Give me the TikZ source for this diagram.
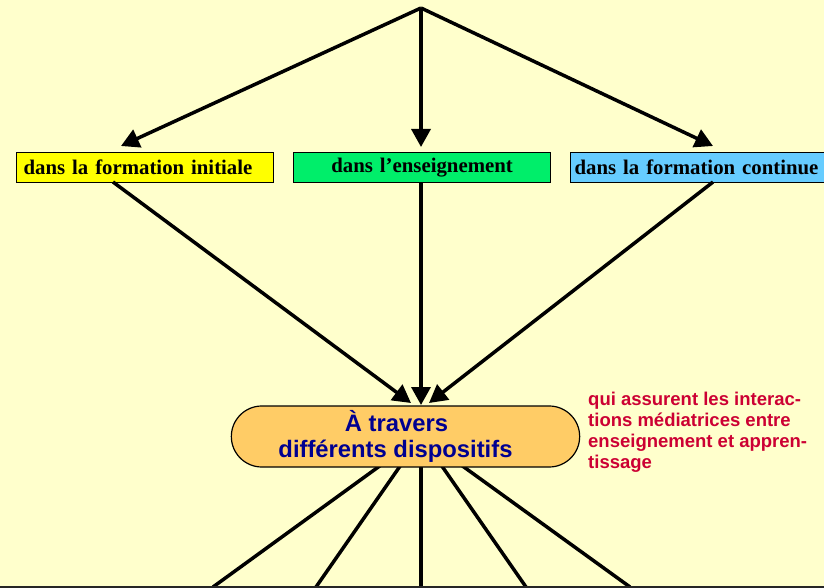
\documentclass[tikz,border=0pt]{standalone}
\usepackage{fontspec}
\setmainfont{Liberation Serif}
\newfontfamily\arialf{Liberation Sans}
\usetikzlibrary{arrows.meta,shapes.misc}
\definecolor{bgc}{HTML}{FFFFCC}
\definecolor{yelc}{HTML}{FFFF00}
\definecolor{grnc}{HTML}{00EE6A}
\definecolor{bluc}{HTML}{66CCFF}
\definecolor{pillc}{HTML}{FFCC66}
\definecolor{navyc}{HTML}{000090}
\definecolor{redc}{HTML}{CC0033}
\tikzset{
  conn/.style={line width=3.5pt, black},
  arr/.style={conn, -{Triangle[length=18pt,width=19pt]}},
  boxs/.style={draw=black, line width=1.2pt, minimum height=30pt, inner ysep=0pt,
    font=\fontsize{20.8}{23}\selectfont\bfseries, anchor=north west},
}
\begin{document}
\begin{tikzpicture}[x=1pt,y=-1pt]
\fill[bgc] (0,0) rectangle (824,588);
\useasboundingbox (0,0) rectangle (824,588);
% boxes
\node[boxs, fill=yelc, minimum width=257pt, text width=243pt, inner xsep=7pt, align=left] (b1) at (16,152) {\raisebox{1.5pt}{dans la formation initiale}};
\node[boxs, fill=grnc, minimum width=257pt, text width=247pt, inner xsep=5pt, align=center] (b2) at (293,152) {dans l’enseignement};
\node[boxs, fill=bluc, minimum width=262pt, text width=254pt, inner xsep=4pt, align=left] (b3) at (570,152) {dans la formation continue};
% coordinates
\coordinate (apex) at (421,8);
\coordinate (t1) at (121,146);
\coordinate (t2) at (421,147);
\coordinate (t3) at (713,146);
\coordinate (s1) at (113,182);
\coordinate (s2) at (421,182);
\coordinate (s3) at (713,182);
\coordinate (p1) at (411,403);
\coordinate (p2) at (421,405);
\coordinate (p3) at (429,403);
\coordinate (hub) at (421,436);
\coordinate (e1) at (213,587);
\coordinate (e2) at (316,587);
\coordinate (e3) at (421,587);
\coordinate (e4) at (526,587);
\coordinate (e5) at (630,587);
\coordinate (bl) at (0,587);
\coordinate (br) at (824,587);
% top arrows
\draw[arr] (apex) -- (t1);
\draw[arr] (apex) -- (t2);
\draw[arr] (apex) -- (t3);
% arrows to pill
\draw[arr] (s1) -- (p1);
\draw[arr] (s2) -- (p2);
\draw[arr] (s3) -- (p3);
% lines below pill
\foreach \e in {e1,e2,e3,e4,e5} \draw[conn] (hub) -- (\e);
\draw[line width=2pt, black!85] (bl) -- (br);
% pill
\node[rounded rectangle, draw=black, line width=1.2pt, fill=pillc, minimum width=355pt, minimum height=61pt,
  font=\arialf\fontsize{23.8}{26}\selectfont\bfseries, text=navyc, align=center] (pill) at (405.5,436.5)
  {À travers\hspace*{18pt}\\différents dispositifs\hspace*{20pt}};
% side text
\node[anchor=north west, inner sep=0pt, text=redc, align=left,
  font=\arialf\fontsize{18.5}{21}\selectfont\bfseries] (side) at (588,392)
  {qui assurent les interac-\\tions médiatrices entre\\enseignement et appren-\\tissage};
\end{tikzpicture}
\end{document}
